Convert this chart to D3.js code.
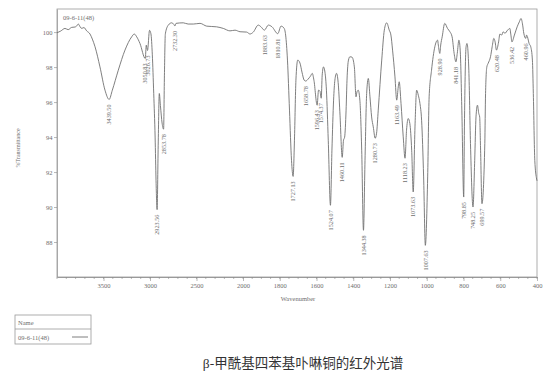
<!DOCTYPE html>
<html>
<head>
<meta charset="utf-8">
<script src="https://cdn.jsdelivr.net/npm/d3@7"></script>
<style>
  html, body { margin: 0; padding: 0; background: #ffffff; }
  svg { display: block; }
</style>
</head>
<body>
<svg id="chart" width="554" height="380"></svg>
<script>
// IR spectrum of the sample 09-6-11(48): wavenumber (cm-1) and %T
const wavenumber = [
  4000, 3960, 3914, 3880, 3842, 3806, 3790, 3771, 3750, 3734, 3710, 3681, 3645, 3620, 3591, 3538, 3484,
  3439.50, 3405, 3341, 3269, 3197, 3169, 3143, 3108, 3050.83, 3040, 3026.73, 3005, 2990, 2975, 2960,
  2945, 2935, 2923.56, 2912, 2900, 2888, 2870, 2853.78, 2845, 2835, 2803, 2767, 2745, 2732.30, 2720,
  2642, 2590, 2534, 2462, 2390, 2283, 2212, 2140, 2086, 2032,
  1980, 1962, 1944, 1917, 1902, 1883.63, 1862, 1842, 1810.81, 1793, 1777, 1768, 1758, 1747, 1736,
  1727.13, 1720, 1712, 1702, 1690, 1679, 1667, 1658.78, 1646, 1633, 1623, 1614, 1596.43, 1589, 1581,
  1574.37, 1569, 1562, 1554, 1546, 1536, 1524.07, 1516, 1507, 1500, 1491, 1481, 1472, 1460.11, 1453,
  1447, 1439, 1434, 1426, 1418, 1407, 1394, 1385, 1380, 1373, 1364, 1354, 1344.38, 1336, 1327, 1318,
  1309, 1300, 1291, 1280.73, 1273, 1264, 1245, 1231, 1218, 1204, 1195, 1186, 1173, 1163.49, 1155,
  1150, 1140, 1128, 1118.23, 1110, 1101, 1092, 1082, 1073.63, 1064, 1055, 1046, 1037, 1028, 1017,
  1007.63, 995, 987, 974, 956, 941, 937, 928.90, 924, 916, 902, 887, 874, 862, 851, 841.18, 834, 825,
  818, 809, 798.85, 795, 786, 781, 771, 762, 748.25, 739, 732, 724, 717, 712, 707, 699.57, 684, 680,
  673, 666, 653, 644, 635, 628, 620.48, 609, 602, 592, 584, 575, 560, 548, 542, 536.42, 523, 508, 496,
  487, 478, 472, 460.96, 457, 452, 443, 434, 425, 420, 412, 402, 400
];
const transmittance = [
  99.96, 100.06, 100.21, 100.14, 100.27, 100.29, 100.34, 100.46, 100.29, 100.21, 100.26, 100.07, 99.89, 99.60, 99.16, 98.01, 96.68,
  96.15, 96.68, 97.82, 98.97, 99.73, 99.89, 99.73, 99.35, 98.49, 99.25, 98.95, 100.10, 99.90, 98.70, 96.50,
  94.00, 91.50, 89.85, 93.50, 96.49, 95.80, 94.80, 94.45, 97.50, 99.90, 100.40, 100.53, 100.45, 100.35, 100.50,
  100.53, 100.46, 100.46, 100.50, 100.34, 100.30, 100.21, 100.07, 100.11, 100.02,
  100.00, 99.89, 100.00, 100.40, 100.30, 100.11, 100.40, 100.30, 99.91, 100.34, 100.23, 99.83, 98.40, 95.54, 92.67,
  91.75, 93.82, 97.25, 98.40, 98.23, 97.71, 97.25, 97.20, 97.31, 97.48, 97.64, 97.25, 95.82, 96.68, 96.62,
  96.22, 97.54, 98.01, 97.71, 96.68, 93.82, 90.10, 93.25, 96.11, 97.25, 97.64, 96.97, 95.25, 92.84, 93.82,
  93.99, 95.54, 97.25, 98.40, 98.59, 98.57, 98.01, 96.30, 96.57, 96.68, 96.11, 93.25, 88.67, 92.67, 96.49, 97.35,
  96.30, 95.15, 94.58, 93.93, 94.22, 95.54, 98.40, 100.11, 100.53, 100.11, 99.83, 98.97, 97.44, 96.11, 96.87,
  97.16, 95.92, 94.01, 92.79, 94.39, 95.06, 94.77, 93.25, 90.86, 94.58, 96.68, 96.39, 95.92, 94.96, 91.72,
  87.81, 91.72, 96.30, 97.82, 99.16, 99.54, 99.26, 98.78, 99.26, 99.73, 100.50, 100.21, 100.02, 99.73, 98.78, 98.30, 98.78, 99.54,
  98.97, 95.54, 90.57, 94.58, 99.16, 99.35, 97.82, 93.63, 90.00, 92.67, 95.15, 95.82, 95.35, 95.15, 93.25, 90.19, 93.63, 96.49,
  98.01, 98.21, 98.59, 99.16, 99.64, 99.44, 98.97, 99.44, 99.89, 99.83, 100.02, 99.93, 100.11, 100.21, 99.83, 99.44, 99.83, 100.30, 100.59,
  100.78, 100.40, 99.94, 99.64, 99.83, 99.73, 99.35, 99.16, 98.40, 96.49, 92.67, 91.60, 91.50
];

// Labelled absorption bands
const peakWavenumbers = [
  3439.50, 3050.83, 3026.73, 2923.56, 2853.78, 2732.30, 1883.63, 1810.81, 1727.13, 1658.78, 1596.43,
  1574.37, 1524.07, 1460.11, 1344.38, 1280.73, 1163.49, 1118.23, 1073.63, 1007.63, 928.90, 841.18,
  798.85, 748.25, 699.57, 620.48, 536.42, 460.96
];

const xMajorTicks = [3500, 3000, 2500, 2000, 1800, 1600, 1400, 1200, 1000, 800, 600, 400];
const yTicks = [88, 90, 92, 94, 96, 98, 100];
const sampleName = "09-6-11(48)";
const xTitle = "Wavenumber";
const yTitle = "%Transmittance";
const caption = "β-甲酰基四苯基卟啉铜的红外光谱";

const svg = d3.select("#chart");
const ink = "#6e6e6e";
const lineInk = "#707070";
const serif = "'Liberation Serif', 'DejaVu Serif', serif";

// Split wavenumber axis: 4000-2000 compressed, 2000-400 expanded two-fold
const x = d3.scaleLinear().domain([4000, 2000, 400]).range([57, 243, 537]);
const y = d3.scaleLinear().domain([86, 101.32]).range([277, 9]);

// Plot frame
svg.append("rect")
  .attr("x", x(4000)).attr("y", y(101.32))
  .attr("width", x(400) - x(4000)).attr("height", y(86) - y(101.32))
  .attr("fill", "none").attr("stroke", "#9a9a9a").attr("stroke-width", 0.8);

// Minor ticks on the wavenumber axis
const minorTicks = d3.range(4000, 2000, -100).concat(d3.range(2000, 399, -50));
svg.append("g")
  .attr("transform", `translate(0,${y(86)})`)
  .selectAll("line").data(minorTicks).join("line")
  .attr("x1", d => x(d)).attr("x2", d => x(d))
  .attr("y1", 0).attr("y2", 2)
  .attr("stroke", "#8a8a8a").attr("stroke-width", 0.6);

const xAxis = svg.append("g")
  .attr("transform", `translate(0,${y(86)})`)
  .call(d3.axisBottom(x).tickValues(xMajorTicks).tickFormat(d3.format("d"))
    .tickSize(4).tickSizeOuter(0).tickPadding(2));
xAxis.select(".domain").attr("stroke", "#8a8a8a").attr("stroke-width", 0.8);
xAxis.selectAll(".tick line").attr("stroke", "#8a8a8a").attr("stroke-width", 0.6);
xAxis.selectAll(".tick text").attr("fill", ink).attr("font-family", serif).attr("font-size", 6.5);

const yAxis = svg.append("g")
  .attr("transform", `translate(${x(4000)},0)`)
  .call(d3.axisLeft(y).tickValues(yTicks).tickFormat(d3.format("d"))
    .tickSize(3).tickSizeOuter(0).tickPadding(1.5));
yAxis.select(".domain").attr("stroke", "#9a9a9a").attr("stroke-width", 0.8);
yAxis.selectAll(".tick line").attr("stroke", "#8a8a8a").attr("stroke-width", 0.6);
yAxis.selectAll(".tick text").attr("fill", ink).attr("font-family", serif).attr("font-size", 6.5);

// Axis titles
svg.append("text")
  .attr("x", 298).attr("y", 301).attr("text-anchor", "middle")
  .attr("fill", ink).attr("font-family", serif).attr("font-size", 6.5)
  .text(xTitle);
svg.append("text")
  .attr("transform", `translate(18,148) rotate(-90)`)
  .attr("text-anchor", "middle").attr("dy", "0.35em")
  .attr("fill", ink).attr("font-family", serif).attr("font-size", 6)
  .text(yTitle);

// Spectrum trace
const pts = wavenumber.map((w, i) => [w, transmittance[i]]);
const line = d3.line().x(d => x(d[0])).y(d => y(d[1])).curve(d3.curveMonotoneX);
svg.append("path")
  .datum(pts)
  .attr("d", line)
  .attr("fill", "none").attr("stroke", lineInk).attr("stroke-width", 0.9)
  .attr("stroke-linejoin", "round");

// Sample name inside the plot
svg.append("text")
  .attr("x", 63).attr("y", 20)
  .attr("fill", ink).attr("font-family", serif).attr("font-size", 6.5)
  .text(sampleName);

// Band labels below each minimum
peakWavenumbers.forEach(w => {
  const i = wavenumber.indexOf(w);
  const t = transmittance[i];
  svg.append("text")
    .attr("transform", `translate(${x(w)},${y(t) + 5}) rotate(-90)`)
    .attr("text-anchor", "end").attr("dy", "0.35em")
    .attr("fill", ink).attr("font-family", serif).attr("font-size", 6.2)
    .text(w.toFixed(2));
});

// Legend box
const lg = svg.append("g").attr("transform", "translate(15,315)");
lg.append("rect").attr("width", 76).attr("height", 29)
  .attr("fill", "none").attr("stroke", "#9a9a9a").attr("stroke-width", 0.8);
lg.append("line").attr("x1", 0).attr("x2", 76).attr("y1", 14).attr("y2", 14)
  .attr("stroke", "#9a9a9a").attr("stroke-width", 0.8);
lg.append("text").attr("x", 3).attr("y", 10)
  .attr("fill", ink).attr("font-family", serif).attr("font-size", 6.5).text("Name");
lg.append("text").attr("x", 3).attr("y", 24.5)
  .attr("fill", ink).attr("font-family", serif).attr("font-size", 6.5).text(sampleName);
lg.append("line").attr("x1", 57).attr("x2", 73).attr("y1", 22).attr("y2", 22)
  .attr("stroke", lineInk).attr("stroke-width", 0.9);

// Figure caption
const cap = svg.append("text")
  .attr("x", 303).attr("y", 368).attr("text-anchor", "middle")
  .attr("fill", "#333").attr("font-size", 13.5)
  .attr("font-family", "'Noto Sans CJK SC', 'Liberation Serif', serif");
cap.append("tspan").attr("font-family", serif).text(caption.slice(0, 2));
cap.append("tspan").text(caption.slice(2));
</script>
</body>
</html>
